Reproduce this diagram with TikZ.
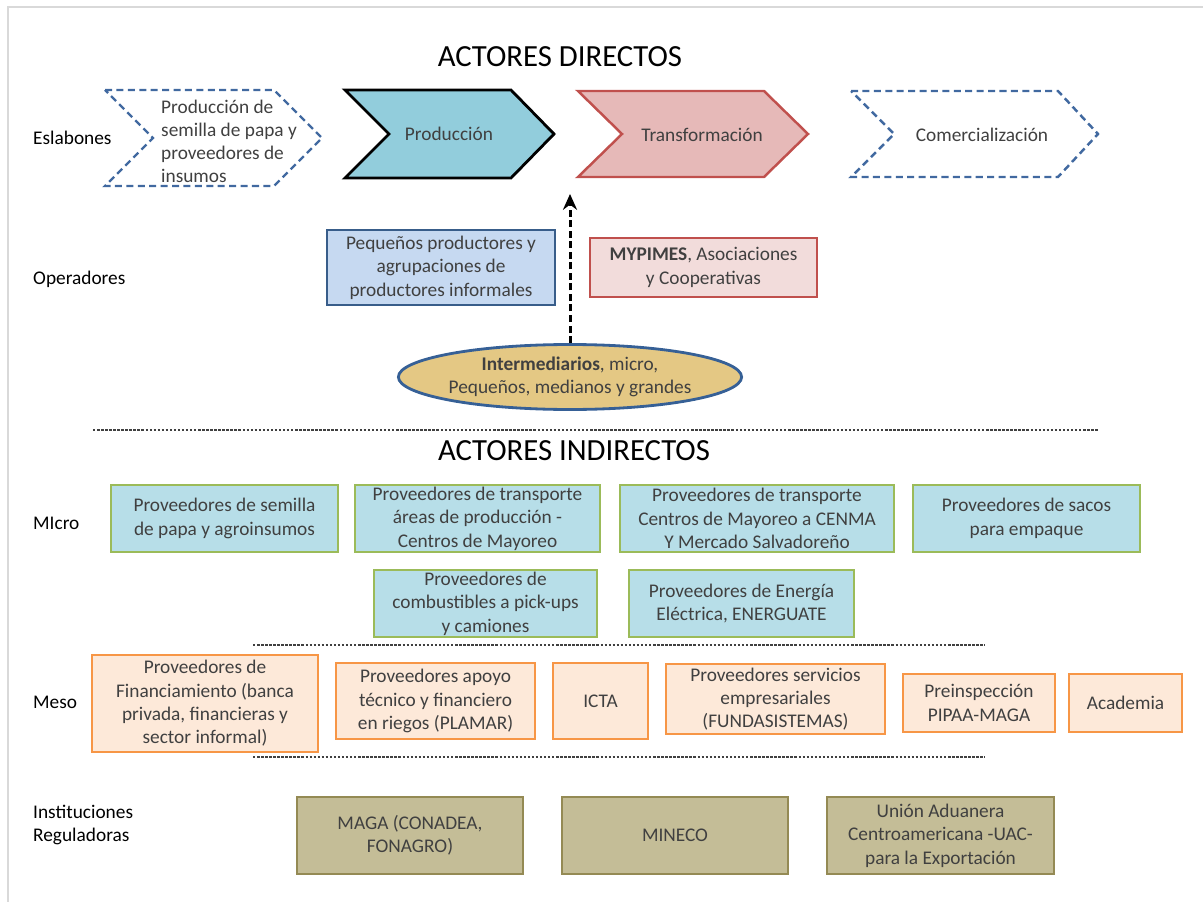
\documentclass[tikz,border=0pt]{standalone}
\usepackage{fontspec}
\setmainfont{Carlito}
\usetikzlibrary{arrows.meta,shapes.geometric}

\definecolor{dashblue}{RGB}{65,105,160}
\definecolor{prodfill}{RGB}{146,205,220}
\definecolor{transfill}{RGB}{230,185,184}
\definecolor{redline}{RGB}{192,80,77}
\definecolor{opfill}{RGB}{198,217,241}
\definecolor{opline}{RGB}{56,93,138}
\definecolor{pinkfill}{RGB}{242,220,219}
\definecolor{tanfill}{RGB}{228,200,132}
\definecolor{ellline}{RGB}{54,96,150}
\definecolor{microfill}{RGB}{183,222,232}
\definecolor{microline}{RGB}{155,187,89}
\definecolor{mesofill}{RGB}{253,233,217}
\definecolor{mesoline}{RGB}{247,150,70}
\definecolor{regfill}{RGB}{196,189,151}
\definecolor{regline}{RGB}{148,138,84}
\definecolor{txt}{RGB}{64,64,64}

\begin{document}
\begin{tikzpicture}[
  x=0.02cm, y=-0.02cm,
  lbl/.style={anchor=west, align=left, font=\fontsize{11}{13.3}\selectfont},
  head/.style={font=\fontsize{17.5}{20}\selectfont},
  txtbox/.style={draw, line width=1.6pt, align=center, text=txt, inner sep=1pt, font=\fontsize{11}{13.3}\selectfont},
  chevdash/.style={draw=dashblue, line width=1.4pt, dash pattern=on 4pt off 2.5pt},
  micro/.style={txtbox, fill=microfill, draw=microline, minimum height=1.34cm},
  meso/.style={txtbox, fill=mesofill, draw=mesoline},
  reg/.style={txtbox, fill=regfill, draw=regline, minimum height=1.54cm, minimum width=4.52cm},
  sep/.style={line width=0.8pt, draw=black!75, dash pattern=on 1.4pt off 0.9pt}
]
\useasboundingbox (0,0) rectangle (1203,902);
\draw[black!15, line width=1.2pt] (8,902) -- (8,7) -- (1203,7);

% actores directos
\node[head] (dir) at (560,57) {ACTORES DIRECTOS};
\node[lbl] (esl) at (27,138) {Eslabones};

\draw[chevdash] (105,90) -- (274,90) -- (322,138) -- (274,186) -- (105,186) -- (153,138) -- cycle;
\draw[fill=prodfill, line width=1.6pt] (345,90) -- (511,90) -- (554,134) -- (511,178) -- (345,178) -- (389,134) -- cycle;
\draw[fill=transfill, draw=redline, line width=1.4pt] (578,91) -- (764,91) -- (808,134) -- (764,177) -- (578,177) -- (622,134) -- cycle;
\draw[chevdash] (851,91) -- (1058,91) -- (1098,134) -- (1058,177) -- (851,177) -- (894,134) -- cycle;

\node[anchor=west, align=left, text=txt, font=\fontsize{11}{13.1}\selectfont] (semilla) at (155,141) {Producción de\\semilla de papa y\\proveedores de\\insumos};
\node[text=txt, font=\fontsize{11}{13.3}\selectfont] (prod) at (449,134) {Producción};
\node[text=txt, font=\fontsize{11}{13.3}\selectfont] (trans) at (702,135) {Transformación};
\node[text=txt, font=\fontsize{11}{13.3}\selectfont] (com) at (982,135) {Comercialización};

% operadores
\node[lbl] (ope) at (27,279) {Operadores};
\node[txtbox, fill=opfill, draw=opline, minimum width=4.56cm, minimum height=1.5cm] (peq) at (441,267.5) {Pequeños productores y\\agrupaciones de\\productores informales};
\node[txtbox, fill=pinkfill, draw=redline, minimum width=4.54cm, minimum height=1.18cm] (myp) at (703.5,267.5) {\textbf{MYPIMES}, Asociaciones\\y Cooperativas};
\node[ellipse, draw=ellline, line width=1.6pt, fill=tanfill, text=txt, align=center, inner sep=0pt, minimum width=5.88cm, minimum height=1.3cm, font=\fontsize{11}{13.3}\selectfont] (int) at (570,377) {\textbf{Intermediarios}, micro,\\Pequeños, medianos y grandes};
\coordinate (tip) at (570,194);
\draw[line width=1.7pt, dash pattern=on 4pt off 2pt, -{Stealth[length=9pt, width=8pt]}] (int.north) -- (tip);

\draw[sep] (93,430) -- (1098,430);

% actores indirectos
\node[head] (ind) at (574,451) {ACTORES INDIRECTOS};
\node[lbl] (mic) at (27,523) {MIcro};
\node[micro, minimum width=4.54cm] (m1) at (224.5,518.5) {Proveedores de semilla\\de papa y agroinsumos};
\node[micro, minimum width=4.9cm] (m2) at (477.5,518.5) {Proveedores de transporte\\áreas de producción -\\Centros de Mayoreo};
\node[micro, minimum width=5.48cm] (m3) at (757,518.5) {Proveedores de transporte\\Centros de Mayoreo a CENMA\\Y Mercado Salvadoreño};
\node[micro, minimum width=4.54cm] (m4) at (1026.5,518.5) {Proveedores de sacos\\para empaque};
\node[micro, minimum width=4.46cm] (m5) at (485.5,603.5) {Proveedores de\\combustibles a pick-ups\\y camiones};
\node[micro, minimum width=4.5cm] (m6) at (741.5,603.5) {Proveedores de Energía\\Eléctrica, ENERGUATE};

\draw[sep] (253,645) -- (985,645);

\node[lbl] (mes) at (27,702) {Meso};
\node[meso, minimum width=4.52cm, minimum height=1.94cm] (s1) at (205,703.5) {Proveedores de\\Financiamiento (banca\\privada, financieras y\\sector informal)};
\node[meso, minimum width=3.98cm, minimum height=1.52cm] (s2) at (435.5,701) {Proveedores apoyo\\técnico y financiero\\en riegos (PLAMAR)};
\node[meso, minimum width=1.9cm, minimum height=1.52cm] (s3) at (600.5,701) {ICTA};
\node[meso, minimum width=4.38cm, minimum height=1.4cm] (s4) at (775.5,699) {Proveedores servicios\\empresariales\\(FUNDASISTEMAS)};
\node[meso, minimum width=3.04cm, minimum height=1.16cm] (s5) at (979,703) {Preinspección\\PIPAA-MAGA};
\node[meso, minimum width=2.26cm, minimum height=1.16cm] (s6) at (1125.5,703) {Academia};

\draw[sep] (253,757) -- (985,757);

\node[lbl] (ins) at (27,825) {Instituciones\\Reguladoras};
\node[reg] (r1) at (410,835.5) {MAGA (CONADEA,\\FONAGRO)};
\node[reg] (r2) at (675,835.5) {MINECO};
\node[reg, minimum width=4.54cm] (r3) at (940.5,835.5) {Unión Aduanera\\Centroamericana -UAC-\\para la Exportación};
\end{tikzpicture}
\end{document}
